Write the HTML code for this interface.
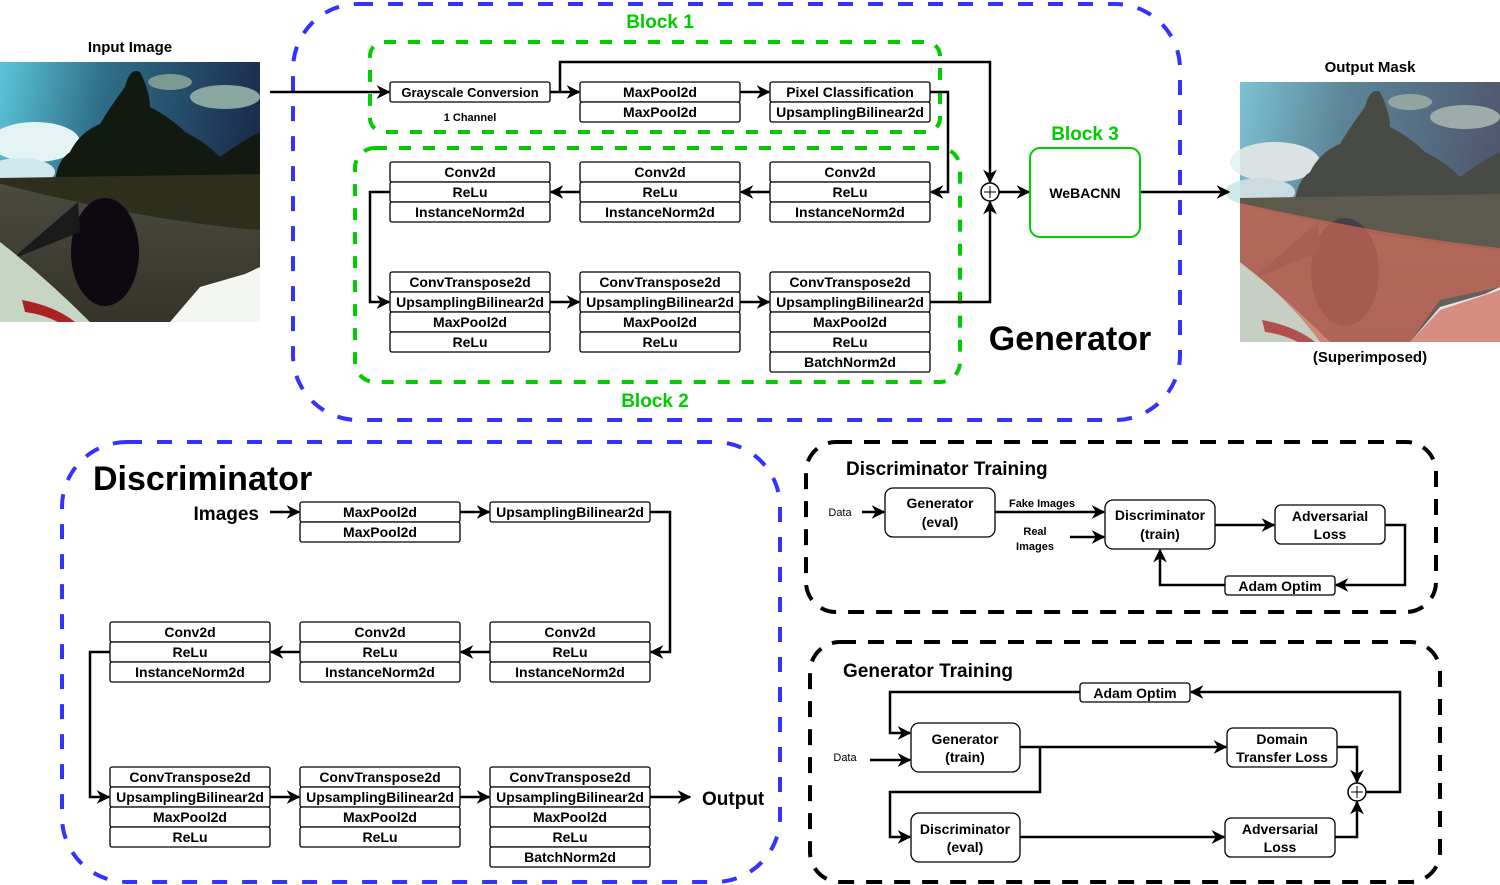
<!DOCTYPE html>
<html><head><meta charset="utf-8"><style>
html,body{margin:0;padding:0;background:#fff}
svg{display:block}
text{font-family:"Liberation Sans",Arial,sans-serif;font-weight:bold;fill:#000}
</style></head><body>
<svg width="1500" height="885" viewBox="0 0 1500 885" xmlns="http://www.w3.org/2000/svg">
<defs>
<marker id="a" viewBox="0 0 10 10" refX="9" refY="5" markerWidth="5.5" markerHeight="5.5" orient="auto-start-reverse"><path d="M0,0 L10,5 L0,10 L3,5 z" fill="#000"/></marker>
<linearGradient id="sky" x1="0" y1="0" x2="1" y2="0.2"><stop offset="0" stop-color="#5cc6da"/><stop offset="0.4" stop-color="#2f6e88"/><stop offset="1" stop-color="#1b2c4c"/></linearGradient>
<linearGradient id="road" x1="0" y1="0" x2="0" y2="1"><stop offset="0" stop-color="#4a4a3e"/><stop offset="1" stop-color="#35332a"/></linearGradient>
<g id="photo">
<rect x="0" y="0" width="260" height="260" fill="url(#sky)"/>
<ellipse cx="35" cy="80" rx="45" ry="20" fill="#e4f3f4"/>
<ellipse cx="20" cy="110" rx="35" ry="14" fill="#cfe9ec"/>
<ellipse cx="225" cy="35" rx="35" ry="12" fill="#8aa6a0"/>
<ellipse cx="170" cy="20" rx="22" ry="8" fill="#7a9a92"/>
<path d="M55,125 Q55,100 70,90 Q80,70 100,62 Q110,45 125,25 Q130,5 140,10 Q150,30 150,45 Q170,55 185,70 Q205,80 220,95 Q240,80 260,70 L260,125 z" fill="#121910"/>
<path d="M0,116 L260,112 L260,168 Q150,160 0,122 z" fill="#2e2e1c"/>
<path d="M0,122 Q150,160 260,168 L260,260 L0,260 z" fill="url(#road)"/>
<ellipse cx="105" cy="190" rx="34" ry="54" fill="#0c0910"/>
<path d="M78,140 L20,190 L15,196 L80,170 z" fill="#1a1a1a"/>
<path d="M170,260 L200,225 L245,212 L260,205 L260,260 z" fill="#f4f6f2"/>
<path d="M0,180 Q45,215 90,260 L0,260 z" fill="#c7d6c4"/>
<path d="M22,238 Q55,244 75,260 L58,260 Q42,252 25,250 z" fill="#a22"/>
</g>
</defs>

<text x="130" y="52" font-size="15" text-anchor="middle">Input Image</text>
<use href="#photo" x="0" y="62"/>
<text x="1370" y="72" font-size="15" text-anchor="middle">Output Mask</text>
<use href="#photo" x="1240" y="82"/>
<path d="M1240,203 Q1400,238 1500,248 L1500,342 L1410,342 L1440,310 L1500,290 L1500,287 L1440,300 L1410,342 L1320,342 Q1290,300 1240,262 z" fill="#d4442a" opacity="0.7"/>
<rect x="1240" y="82" width="260" height="260" fill="#c8bcc0" opacity="0.3"/>
<text x="1370" y="362" font-size="15" text-anchor="middle">(Superimposed)</text>

<rect x="293" y="4" width="887" height="416" rx="65" fill="none" stroke="#3333ff" stroke-width="4" stroke-dasharray="15,15"/>
<rect x="370" y="42" width="570" height="90" rx="14" fill="none" stroke="#00cc00" stroke-width="4" stroke-dasharray="12,12"/>
<rect x="355" y="148" width="605" height="234" rx="20" fill="none" stroke="#00cc00" stroke-width="4" stroke-dasharray="12,12"/>
<text x="660" y="28" font-size="19" style="fill:#00cc00" text-anchor="middle">Block 1</text>
<text x="655" y="407" font-size="19" style="fill:#00cc00" text-anchor="middle">Block 2</text>
<text x="1085" y="140" font-size="19" style="fill:#00cc00" text-anchor="middle">Block 3</text>
<text x="1070" y="350" font-size="34" text-anchor="middle">Generator</text>

<g fill="#fff" stroke="#000" stroke-width="1.3">
<rect x="390" y="82" width="160" height="20" rx="2"/>
<rect x="580" y="82" width="160" height="20" rx="2"/><rect x="580" y="102" width="160" height="20" rx="2"/>
<rect x="770" y="82" width="160" height="20" rx="2"/><rect x="770" y="102" width="160" height="20" rx="2"/>
<rect x="390" y="162" width="160" height="20" rx="2"/><rect x="390" y="182" width="160" height="20" rx="2"/><rect x="390" y="202" width="160" height="20" rx="2"/>
<rect x="580" y="162" width="160" height="20" rx="2"/><rect x="580" y="182" width="160" height="20" rx="2"/><rect x="580" y="202" width="160" height="20" rx="2"/>
<rect x="770" y="162" width="160" height="20" rx="2"/><rect x="770" y="182" width="160" height="20" rx="2"/><rect x="770" y="202" width="160" height="20" rx="2"/>
<rect x="390" y="272" width="160" height="20" rx="2"/><rect x="390" y="292" width="160" height="20" rx="2"/><rect x="390" y="312" width="160" height="20" rx="2"/><rect x="390" y="332" width="160" height="20" rx="2"/>
<rect x="580" y="272" width="160" height="20" rx="2"/><rect x="580" y="292" width="160" height="20" rx="2"/><rect x="580" y="312" width="160" height="20" rx="2"/><rect x="580" y="332" width="160" height="20" rx="2"/>
<rect x="770" y="272" width="160" height="20" rx="2"/><rect x="770" y="292" width="160" height="20" rx="2"/><rect x="770" y="312" width="160" height="20" rx="2"/><rect x="770" y="332" width="160" height="20" rx="2"/><rect x="770" y="352" width="160" height="20" rx="2"/>
</g>
<g font-size="14" text-anchor="middle">
<text x="470" y="97" font-size="13">Grayscale Conversion</text>
<text x="470" y="121" font-size="11">1 Channel</text>
<text x="660" y="97">MaxPool2d</text><text x="660" y="117">MaxPool2d</text>
<text x="850" y="97">Pixel Classification</text><text x="850" y="117">UpsamplingBilinear2d</text>
<text x="470" y="177">Conv2d</text><text x="470" y="197">ReLu</text><text x="470" y="217">InstanceNorm2d</text>
<text x="660" y="177">Conv2d</text><text x="660" y="197">ReLu</text><text x="660" y="217">InstanceNorm2d</text>
<text x="850" y="177">Conv2d</text><text x="850" y="197">ReLu</text><text x="850" y="217">InstanceNorm2d</text>
<text x="470" y="287">ConvTranspose2d</text><text x="470" y="307">UpsamplingBilinear2d</text><text x="470" y="327">MaxPool2d</text><text x="470" y="347">ReLu</text>
<text x="660" y="287">ConvTranspose2d</text><text x="660" y="307">UpsamplingBilinear2d</text><text x="660" y="327">MaxPool2d</text><text x="660" y="347">ReLu</text>
<text x="850" y="287">ConvTranspose2d</text><text x="850" y="307">UpsamplingBilinear2d</text><text x="850" y="327">MaxPool2d</text><text x="850" y="347">ReLu</text><text x="850" y="367">BatchNorm2d</text>
</g>
<g fill="none" stroke="#000" stroke-width="2.5" marker-end="url(#a)">
<path d="M270,92 H389"/>
<path d="M550,92 H579"/>
<path d="M560,92 V62 H990 V182"/>
<path d="M740,92 H769"/>
<path d="M930,92 H948 V192 H931"/>
<path d="M770,192 H741"/>
<path d="M580,192 H551"/>
<path d="M390,192 H370 V302 H389"/>
<path d="M550,302 H579"/>
<path d="M740,302 H769"/>
<path d="M930,302 H990 V202"/>
<path d="M999,192 H1029"/>
<path d="M1140,192 H1229"/>
</g>
<circle cx="990" cy="192" r="9" fill="#fff" stroke="#000" stroke-width="1.5"/>
<path d="M984,192 H996 M990,186 V198" stroke="#000" stroke-width="1"/>
<rect x="1030" y="148" width="110" height="89" rx="10" fill="#fff" stroke="#00cc00" stroke-width="2"/>
<text x="1085" y="198" font-size="14" text-anchor="middle">WeBACNN</text>

<rect x="62" y="442" width="718" height="440" rx="65" fill="none" stroke="#3333ff" stroke-width="4" stroke-dasharray="15,15"/>
<text x="93" y="490" font-size="34">Discriminator</text>
<text x="259" y="520" font-size="19" text-anchor="end">Images</text>
<text x="702" y="805" font-size="19">Output</text>
<g fill="#fff" stroke="#000" stroke-width="1.3">
<rect x="300" y="502" width="160" height="20" rx="2"/><rect x="300" y="522" width="160" height="20" rx="2"/>
<rect x="490" y="502" width="160" height="20" rx="2"/>
<rect x="110" y="622" width="160" height="20" rx="2"/><rect x="110" y="642" width="160" height="20" rx="2"/><rect x="110" y="662" width="160" height="20" rx="2"/>
<rect x="300" y="622" width="160" height="20" rx="2"/><rect x="300" y="642" width="160" height="20" rx="2"/><rect x="300" y="662" width="160" height="20" rx="2"/>
<rect x="490" y="622" width="160" height="20" rx="2"/><rect x="490" y="642" width="160" height="20" rx="2"/><rect x="490" y="662" width="160" height="20" rx="2"/>
<rect x="110" y="767" width="160" height="20" rx="2"/><rect x="110" y="787" width="160" height="20" rx="2"/><rect x="110" y="807" width="160" height="20" rx="2"/><rect x="110" y="827" width="160" height="20" rx="2"/>
<rect x="300" y="767" width="160" height="20" rx="2"/><rect x="300" y="787" width="160" height="20" rx="2"/><rect x="300" y="807" width="160" height="20" rx="2"/><rect x="300" y="827" width="160" height="20" rx="2"/>
<rect x="490" y="767" width="160" height="20" rx="2"/><rect x="490" y="787" width="160" height="20" rx="2"/><rect x="490" y="807" width="160" height="20" rx="2"/><rect x="490" y="827" width="160" height="20" rx="2"/><rect x="490" y="847" width="160" height="20" rx="2"/>
</g>
<g font-size="14" text-anchor="middle">
<text x="380" y="517">MaxPool2d</text><text x="380" y="537">MaxPool2d</text>
<text x="570" y="517">UpsamplingBilinear2d</text>
<text x="190" y="637">Conv2d</text><text x="190" y="657">ReLu</text><text x="190" y="677">InstanceNorm2d</text>
<text x="380" y="637">Conv2d</text><text x="380" y="657">ReLu</text><text x="380" y="677">InstanceNorm2d</text>
<text x="570" y="637">Conv2d</text><text x="570" y="657">ReLu</text><text x="570" y="677">InstanceNorm2d</text>
<text x="190" y="782">ConvTranspose2d</text><text x="190" y="802">UpsamplingBilinear2d</text><text x="190" y="822">MaxPool2d</text><text x="190" y="842">ReLu</text>
<text x="380" y="782">ConvTranspose2d</text><text x="380" y="802">UpsamplingBilinear2d</text><text x="380" y="822">MaxPool2d</text><text x="380" y="842">ReLu</text>
<text x="570" y="782">ConvTranspose2d</text><text x="570" y="802">UpsamplingBilinear2d</text><text x="570" y="822">MaxPool2d</text><text x="570" y="842">ReLu</text><text x="570" y="862">BatchNorm2d</text>
</g>
<g fill="none" stroke="#000" stroke-width="2.5" marker-end="url(#a)">
<path d="M270,512 H299"/>
<path d="M460,512 H489"/>
<path d="M650,512 H670 V652 H651"/>
<path d="M490,652 H461"/>
<path d="M300,652 H271"/>
<path d="M110,652 H90 V797 H109"/>
<path d="M270,797 H299"/>
<path d="M460,797 H489"/>
<path d="M650,797 H690"/>
</g>

<rect x="806" y="442" width="630" height="170" rx="30" fill="none" stroke="#000" stroke-width="4" stroke-dasharray="16,12"/>
<text x="846" y="475" font-size="19" style="font-weight:600">Discriminator Training</text>
<g fill="#fff" stroke="#000" stroke-width="1.3">
<rect x="885" y="488" width="110" height="49" rx="8"/>
<rect x="1105" y="500" width="110" height="49" rx="8"/>
<rect x="1275" y="505" width="110" height="39" rx="6"/>
<rect x="1225" y="576" width="110" height="19" rx="3"/>
</g>
<g font-size="14" text-anchor="middle">
<text x="940" y="508">Generator</text><text x="940" y="527">(eval)</text>
<text x="1160" y="520">Discriminator</text><text x="1160" y="539">(train)</text>
<text x="1330" y="521">Adversarial</text><text x="1330" y="539">Loss</text>
<text x="1280" y="591">Adam Optim</text>
<text x="840" y="516" font-size="11" style="font-weight:normal">Data</text>
<text x="1042" y="507" font-size="11" style="font-weight:600">Fake Images</text>
<text x="1035" y="535" font-size="11" style="font-weight:600">Real</text>
<text x="1035" y="550" font-size="11" style="font-weight:600">Images</text>
</g>
<g fill="none" stroke="#000" stroke-width="2.5" marker-end="url(#a)">
<path d="M862,512 H884"/>
<path d="M995,512 H1104"/>
<path d="M1070,537 H1104"/>
<path d="M1215,525 H1274"/>
<path d="M1385,525 H1405 V585 H1336"/>
<path d="M1225,585 H1160 V550"/>
</g>

<rect x="810" y="642" width="630" height="240" rx="30" fill="none" stroke="#000" stroke-width="4" stroke-dasharray="16,12"/>
<text x="843" y="677" font-size="19" style="font-weight:600">Generator Training</text>
<g fill="#fff" stroke="#000" stroke-width="1.3">
<rect x="1080" y="683" width="110" height="19" rx="3"/>
<rect x="911" y="723" width="109" height="49" rx="8"/>
<rect x="1227" y="728" width="110" height="39" rx="6"/>
<rect x="911" y="813" width="109" height="49" rx="8"/>
<rect x="1225" y="818" width="110" height="39" rx="6"/>
</g>
<g font-size="14" text-anchor="middle">
<text x="1135" y="698">Adam Optim</text>
<text x="965" y="744">Generator</text><text x="965" y="762">(train)</text>
<text x="1282" y="744">Domain</text><text x="1282" y="762">Transfer Loss</text>
<text x="965" y="834">Discriminator</text><text x="965" y="852">(eval)</text>
<text x="1280" y="834">Adversarial</text><text x="1280" y="852">Loss</text>
<text x="845" y="761" font-size="11" style="font-weight:normal">Data</text>
</g>
<g fill="none" stroke="#000" stroke-width="2.5" marker-end="url(#a)">
<path d="M1080,692 H890 V733 H910"/>
<path d="M870,760 H910"/>
<path d="M1020,747 H1226"/>
<path d="M1040,747 V792 H890 V837 H910"/>
<path d="M1020,837 H1224"/>
<path d="M1337,747 H1357 V782"/>
<path d="M1335,837 H1357 V802"/>
<path d="M1366,792 H1400 V692 H1191"/>
</g>
<circle cx="1357" cy="792" r="9" fill="#fff" stroke="#000" stroke-width="1.5"/>
<path d="M1351,792 H1363 M1357,786 V798" stroke="#000" stroke-width="1"/>
</svg>
</body></html>
